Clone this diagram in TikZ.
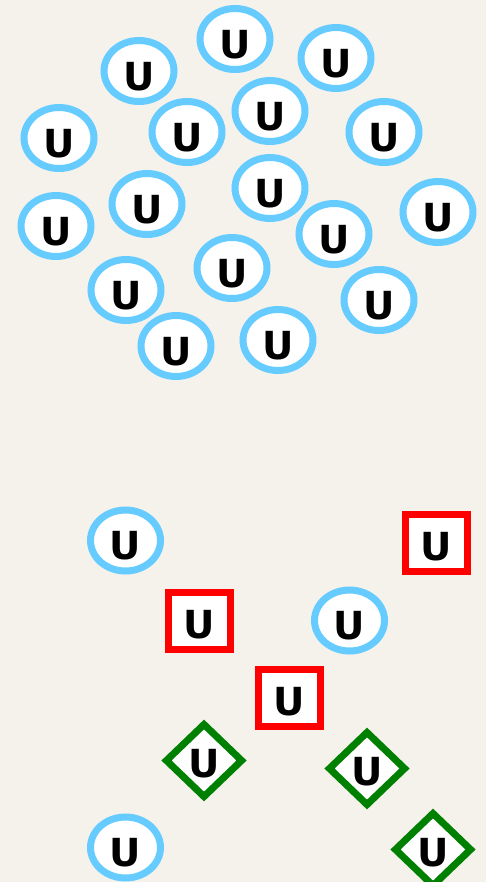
\documentclass[tikz,border=0pt]{standalone}
\usepackage{fontspec}
\setmainfont{DejaVu Sans}
\usetikzlibrary{shapes.geometric}
\definecolor{paper}{HTML}{F5F2EB}
\definecolor{ublue}{HTML}{66CCFF}
\definecolor{ured}{HTML}{FF0000}
\definecolor{ugreen}{HTML}{008000}
\begin{document}
\begin{tikzpicture}[x=0.75pt,y=-0.75pt,
  unode/.style={fill=white,line width=5.25pt,inner sep=0pt,
    font=\fontsize{29}{29}\selectfont\bfseries,text depth=0pt},
  uoval/.style={unode,ellipse,draw=ublue,minimum width=52.5pt,
    minimum height=45.75pt,text height=28.6pt},
  ubox/.style={unode,rectangle,draw=ured,minimum width=46.5pt,
    minimum height=42.75pt,text height=25.6pt},
  ugem/.style={unode,diamond,draw=ugreen,minimum width=58.5pt,
    minimum height=56.25pt,text height=24.85pt}]
\fill[paper] (0,0) rectangle (486,882);
\useasboundingbox (0,0) rectangle (486,882);

\node[uoval] (u1) at (235,39) {U};
\node[uoval] (u2) at (139,71) {U};
\node[uoval] (u3) at (336,58) {U};
\node[uoval] (u4) at (59,138) {U};
\node[uoval] (u5) at (187,132) {U};
\node[uoval] (u6) at (270,111) {U};
\node[uoval] (u7) at (384,132) {U};
\node[uoval] (u8) at (56,226) {U};
\node[uoval] (u9) at (147,204) {U};
\node[uoval] (u10) at (270,188) {U};
\node[uoval] (u11) at (334,234) {U};
\node[uoval] (u12) at (438,212) {U};
\node[uoval] (u13) at (232,268) {U};
\node[uoval] (u14) at (126,290) {U};
\node[uoval] (u15) at (379,300) {U};
\node[uoval] (u16) at (176,346) {U};
\node[uoval] (u17) at (278,340) {U};

\node[uoval] (v1) at (125.5,540.5) {U};
\node[uoval] (v2) at (349.5,620.5) {U};
\node[uoval] (v3) at (125.5,847.5) {U};

\node[ubox] (s1) at (436.5,543) {U};
\node[ubox] (s2) at (199.5,621) {U};
\node[ubox] (s3) at (289.5,698) {U};

\node[ugem] (d1) at (204,760.5) {U};
\node[ugem] (d2) at (367,768.5) {U};
\node[ugem] (d3) at (433,849.5) {U};
\end{tikzpicture}
\end{document}
